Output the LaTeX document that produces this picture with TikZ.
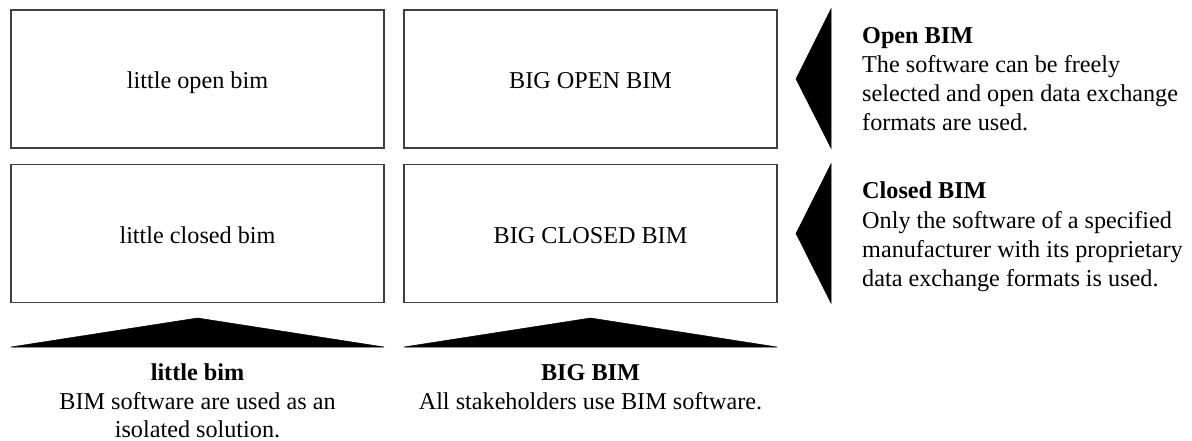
\documentclass[tikz,border=0pt]{standalone}
\usepackage{fontspec}
\setmainfont{Liberation Serif}
\begin{document}
\begin{tikzpicture}[x=1pt,y=-1pt,
  bx/.style={draw=black!75,line width=1.3pt,minimum width=373pt,minimum height=138pt,inner sep=0pt,
    font=\fontsize{24.2}{29}\selectfont},
  txt/.style={inner sep=0pt,font=\fontsize{24.2}{29}\selectfont},
  tri/.style={fill=black,draw=black,line width=0.5pt,line join=miter}]
\useasboundingbox (0,0) rectangle (1192,441);
% boxes
\node[bx] (lob) at (197.5,79) {};
\node[bx] (bob) at (590.5,79) {};
\node[bx] (lcb) at (197.5,233.5) {};
\node[bx] (bcb) at (590.5,233.5) {};
\node[txt,anchor=base] (t1) at (197.5,89) {little open bim};
\node[txt,anchor=base] (t2) at (590.5,89) {BIG OPEN BIM};
\node[txt,anchor=base] (t3) at (197.5,243) {little closed bim};
\node[txt,anchor=base] (t4) at (590.5,243) {BIG CLOSED BIM};
% bottom triangles
\fill[tri] (11,347) -- (197.5,318) -- (384,347) -- cycle;
\fill[tri] (404,347) -- (590.5,318) -- (777,347) -- cycle;
% side triangles
\fill[tri] (831,9) -- (796,79) -- (831,148) -- cycle;
\fill[tri] (831,164) -- (796,233.5) -- (831,303) -- cycle;
% bottom texts
\node[txt,anchor=base] (lbh) at (197.5,380) {\bfseries little bim};
\node[txt,anchor=base] (lb1) at (197.5,409) {BIM software are used as an};
\node[txt,anchor=base] (lb2) at (197.5,437) {isolated solution.};
\node[txt,anchor=base] (bbh) at (590.5,380) {\bfseries BIG BIM};
\node[txt,anchor=base] (bb1) at (590.5,409) {All stakeholders use BIM software.};
% right texts
\node[txt,anchor=base west] (oh) at (862,44) {\bfseries Open BIM};
\node[txt,anchor=base west] (o1) at (862,73) {The software can be freely};
\node[txt,anchor=base west] (o2) at (862,102) {selected and open data exchange};
\node[txt,anchor=base west] (o3) at (862,131) {formats are used.};
\node[txt,anchor=base west] (ch) at (862,199) {\bfseries Closed BIM};
\node[txt,anchor=base west] (c1) at (862,228) {Only the software of a specified};
\node[txt,anchor=base west] (c2) at (862,257) {manufacturer with its proprietary};
\node[txt,anchor=base west] (c3) at (862,286) {data exchange formats is used.};
\end{tikzpicture}
\end{document}
